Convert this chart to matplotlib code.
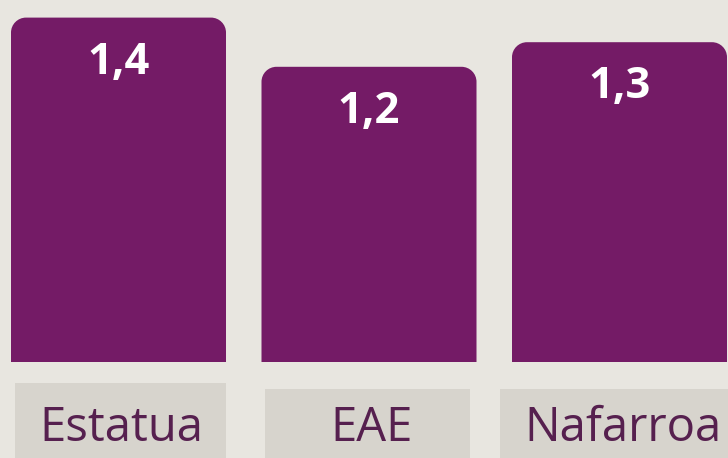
import matplotlib.pyplot as plt
from matplotlib.patches import PathPatch, Rectangle
from matplotlib.path import Path

# ======================
# DATA
# ======================
categories = ['Estatua', 'EAE', 'Nafarroa']
values = [1.4, 1.2, 1.3]
value_labels = ['1,4', '1,2', '1,3']

# ======================
# STYLE
# ======================
bg = '#E8E6E0'
bar_color = '#741B66'
box_color = '#D7D4CD'
label_color = '#56204F'
plt.rcParams['font.family'] = ['Open Sans', 'DejaVu Sans']

fig = plt.figure(figsize=(7.28, 4.58), dpi=100)
fig.patch.set_facecolor(bg)
ax = fig.add_axes([0, 0, 1, 1])
ax.set_facecolor(bg)

# pixel mapping: 250.5 px per category, 246 px per unit
ax.set_xlim(-118.5 / 250.5, (728 - 118.5) / 250.5)
ax.set_ylim(-96 / 246, (458 - 96) / 246)
ax.axis('off')

width = 215 / 250.5
rx = 15 / 250.5
ry = 15 / 246
k = 0.5523


def top_rounded_bar(x0, w, h):
    # bar with rounded top corners and a square bottom
    x1 = x0 + w
    verts = [(x0, 0), (x0, h - ry),
             (x0, h - ry + k * ry), (x0 + rx - k * rx, h), (x0 + rx, h),
             (x1 - rx, h),
             (x1 - rx + k * rx, h), (x1, h - ry + k * ry), (x1, h - ry),
             (x1, 0), (x0, 0)]
    codes = [Path.MOVETO, Path.LINETO,
             Path.CURVE4, Path.CURVE4, Path.CURVE4,
             Path.LINETO,
             Path.CURVE4, Path.CURVE4, Path.CURVE4,
             Path.LINETO, Path.CLOSEPOLY]
    return PathPatch(Path(verts, codes), fc=bar_color, ec='none')


# label boxes (left, right offsets from centre, top)
box_left = [-0.413, -0.417, -0.477]
box_right = [0.429, 0.403, 0.434]
box_top = [-21 / 246, -27 / 246, -27 / 246]

for i, (cat, v, lab) in enumerate(zip(categories, values, value_labels)):
    ax.add_patch(top_rounded_bar(i - width / 2, width, v))
    ax.text(i, v - 56 / 246, lab, ha='center', va='baseline', color='white',
            fontsize=31.3, fontweight='bold')

    # category box
    ax.add_patch(Rectangle((i + box_left[i], -1), box_right[i] - box_left[i], 1 + box_top[i],
                           fc=box_color, ec='none'))
    ax.text(i + 0.012, -79 / 246, cat, ha='center', va='baseline', color=label_color,
            fontsize=34)

plt.savefig('out.png', dpi=100, facecolor=bg)
